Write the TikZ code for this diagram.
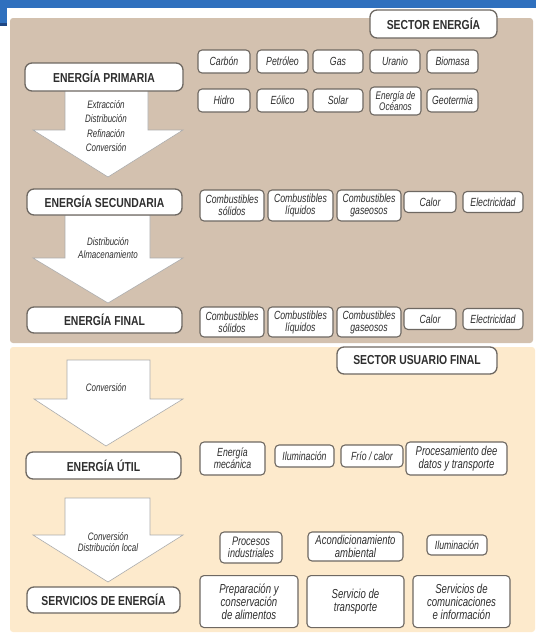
\documentclass[tikz,border=0pt]{standalone}
\usepackage{fontspec}
\setmainfont{Liberation Sans}
\newfontfamily\narrowfont[FakeStretch=0.8]{Liberation Sans}
\newfontfamily\narrowerfont[FakeStretch=0.74]{Liberation Sans}
\definecolor{panelA}{RGB}{211,193,175}
\definecolor{panelB}{RGB}{253,234,204}
\definecolor{edge}{RGB}{110,104,98}
\definecolor{titleblue}{RGB}{47,112,190}
\definecolor{titledark}{RGB}{30,70,130}
\tikzset{
  x=1pt, y=-1pt,
  hdr/.style={draw=edge, line width=1.3pt, fill=white, rounded corners=7pt,
    font=\narrowfont\bfseries\fontsize{13}{15}\selectfont, inner sep=1pt, text=black!82},
  sbox/.style={draw=edge, line width=1.1pt, fill=white, rounded corners=4pt,
    font=\narrowerfont\itshape\fontsize{11.8}{12}\selectfont, align=center, inner sep=1pt, text=black!82},
  lbox/.style={sbox, font=\narrowerfont\itshape\fontsize{13}{13}\selectfont},
  bigarrow/.style={draw=gray!65, line width=0.6pt, fill=white},
  atext/.style={font=\narrowerfont\itshape\fontsize{10.8}{14.5}\selectfont, align=center, text=black!82},
}
\begin{document}
\begin{tikzpicture}
\useasboundingbox (0,0) rectangle (536,633);
% title bar
\fill[titleblue] (0,0) rectangle (536,8);
\fill[titleblue] (0,8) rectangle (7,23);
\fill[titledark] (0,23) rectangle (7,26);
% panels
\fill[panelA, rounded corners=3pt] (10,18) rectangle (533,343);
\fill[panelB, rounded corners=3pt] (10,347) rectangle (535,632);
% big arrows
\draw[bigarrow] (65,89) -- (148,89) -- (148,130) -- (183,130) -- (108,177) -- (33,130) -- (65,130) -- cycle;
\draw[bigarrow] (65,215) -- (150,215) -- (150,258) -- (183,258) -- (108,303) -- (33,258) -- (65,258) -- cycle;
\draw[bigarrow] (67,360) -- (150,360) -- (150,399) -- (183,399) -- (106,446) -- (34,399) -- (67,399) -- cycle;
\draw[bigarrow] (65,498) -- (150,498) -- (150,535) -- (183,535) -- (108,582) -- (33,535) -- (65,535) -- cycle;
\node[atext] (t1) at (106,126) {Extracción\\Distribución\\Refinación\\Conversión};
\node[atext, font=\narrowerfont\itshape\fontsize{10.8}{13}\selectfont] (t2) at (108,248.5) {Distribución\\Almacenamiento};
\node[atext] (t3) at (106,388) {Conversión};
\node[atext, font=\narrowerfont\itshape\fontsize{10.8}{11.5}\selectfont] (t4) at (108,542) {Conversión\\Distribución local};
% headers
\node[hdr, minimum width=127, minimum height=28] (secE) at (433.5,24) {SECTOR ENERGÍA};
\node[hdr, minimum width=158, minimum height=28] (prim) at (104,77) {ENERGÍA PRIMARIA};
\node[hdr, minimum width=155, minimum height=26] (sec) at (104.5,202) {ENERGÍA SECUNDARIA};
\node[hdr, minimum width=155, minimum height=26] (fin) at (104.5,320) {ENERGÍA FINAL};
\node[hdr, minimum width=160, minimum height=27] (secU) at (417,360.5) {SECTOR USUARIO FINAL};
\node[hdr, minimum width=155, minimum height=27] (util) at (103.5,465.5) {ENERGÍA ÚTIL};
\node[hdr, minimum width=153, minimum height=26] (serv) at (103.5,600) {SERVICIOS DE ENERGÍA};
% primary sources
\node[sbox, minimum width=52, minimum height=23] (carbon) at (224,61.5) {Carbón};
\node[sbox, minimum width=51, minimum height=23] (petro) at (282.5,61.5) {Petróleo};
\node[sbox, minimum width=50, minimum height=23] (gas) at (338,61.5) {Gas};
\node[sbox, minimum width=50, minimum height=23] (uranio) at (395,61.5) {Uranio};
\node[sbox, minimum width=51, minimum height=23] (bio) at (452.5,61.5) {Biomasa};
\node[sbox, minimum width=52, minimum height=23] (hidro) at (224,100.5) {Hidro};
\node[sbox, minimum width=51, minimum height=23] (eolico) at (282.5,100.5) {Eólico};
\node[sbox, minimum width=50, minimum height=23] (solar) at (338,100.5) {Solar};
\node[sbox, minimum width=51, minimum height=28, font=\narrowerfont\itshape\fontsize{11}{10}\selectfont] (ocean) at (395.5,101) {Energía de\\Océanos};
\node[sbox, minimum width=51, minimum height=23] (geo) at (452.5,100.5) {Geotermia};
% secondary
\node[sbox, minimum width=64, minimum height=31] (s1) at (232,205.5) {Combustibles\\sólidos};
\node[sbox, minimum width=65, minimum height=31] (s2) at (300.5,205.5) {Combustibles\\líquidos};
\node[sbox, minimum width=64, minimum height=31] (s3) at (369,205.5) {Combustibles\\gaseosos};
\node[sbox, minimum width=52, minimum height=21] (s4) at (430,202) {Calor};
\node[sbox, minimum width=60, minimum height=21] (s5) at (493,202) {Electricidad};
% final
\node[sbox, minimum width=64, minimum height=30] (f1) at (232,322) {Combustibles\\sólidos};
\node[sbox, minimum width=65, minimum height=30] (f2) at (300.5,322) {Combustibles\\líquidos};
\node[sbox, minimum width=64, minimum height=30] (f3) at (369,322) {Combustibles\\gaseosos};
\node[sbox, minimum width=52, minimum height=21] (f4) at (430,319) {Calor};
\node[sbox, minimum width=60, minimum height=21] (f5) at (493,319) {Electricidad};
% useful
\node[sbox, minimum width=65, minimum height=33] (u1) at (232.5,458.5) {Energía\\mecánica};
\node[sbox, minimum width=59, minimum height=22] (u2) at (304.5,456) {Iluminación};
\node[sbox, minimum width=62, minimum height=22] (u3) at (372,456) {Frío / calor};
\node[sbox, minimum width=101, minimum height=33, font=\narrowerfont\itshape\fontsize{12.8}{13}\selectfont] (u4) at (456.5,458.5) {Procesamiento dee\\datos y transporte};
% services
\node[sbox, minimum width=62, minimum height=31, font=\narrowerfont\itshape\fontsize{12.3}{12.5}\selectfont] (v1) at (251,547.5) {Procesos\\industriales};
\node[sbox, minimum width=95, minimum height=29, font=\narrowerfont\itshape\fontsize{12.8}{12.5}\selectfont] (v2) at (355.5,546.5) {Acondicionamiento\\ambiental};
\node[sbox, minimum width=60, minimum height=20] (v3) at (457,545) {Iluminación};
\node[lbox, minimum width=98, minimum height=52, anchor=north] (w1) at (249,575) {\rule{0pt}{10pt}Preparación y\\conservación\\de alimentos};
\node[lbox, minimum width=97, minimum height=52, anchor=north] (w2) at (355.5,575) {\rule{0pt}{10pt}Servicio de\\transporte};
\node[lbox, minimum width=97, minimum height=52, anchor=north] (w3) at (461.5,575) {\rule{0pt}{10pt}Servicios de\\comunicaciones\\e información};
\end{tikzpicture}
\end{document}
